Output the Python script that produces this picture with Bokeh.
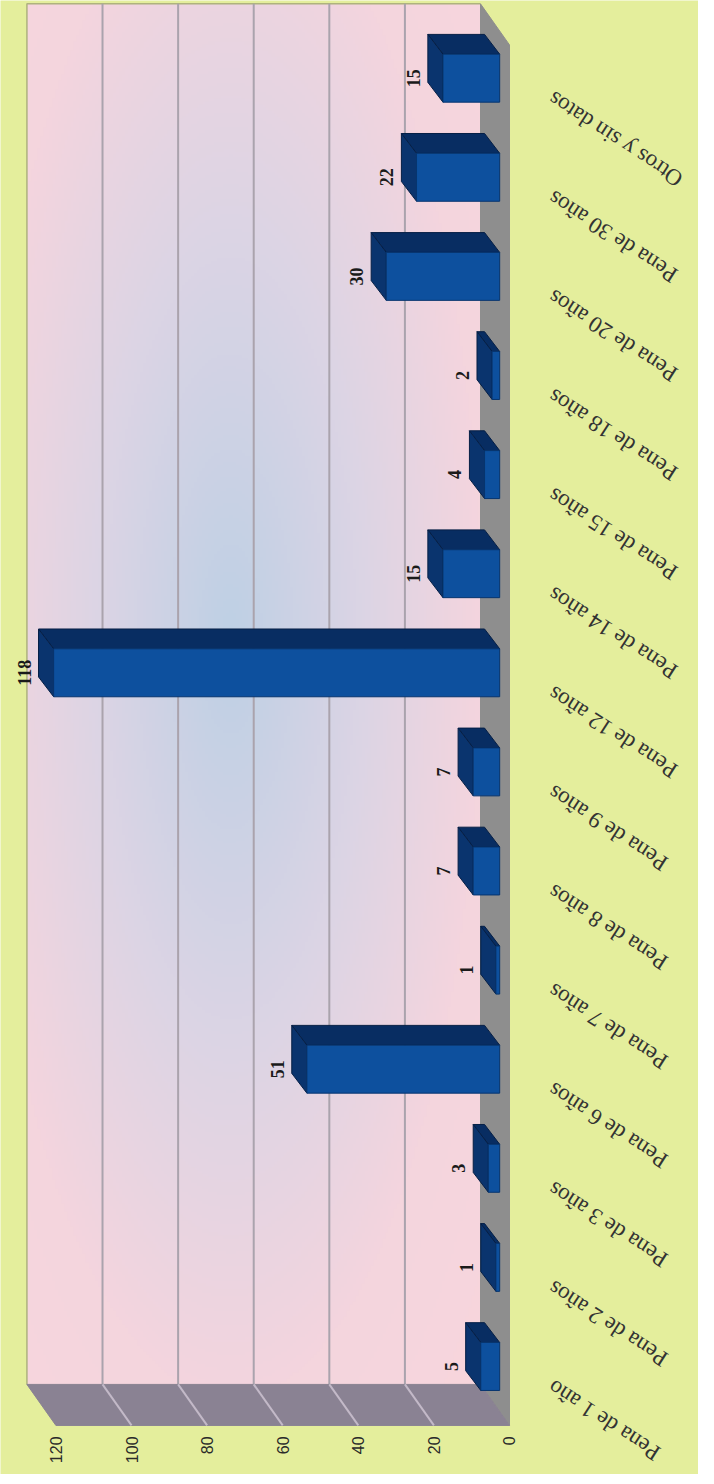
import numpy as np
from bokeh.plotting import figure
from bokeh.models import Range1d, FixedTicker
from bokeh.core.properties import value
from bokeh.embed import file_html
from bokeh.resources import INLINE

# ---------------- data ----------------
categories = ["Pena de 1 año", "Pena de 2 años", "Pena de 3 años", "Pena de 6 años",
              "Pena de 7 años", "Pena de 8 años", "Pena de 9 años", "Pena de 12 años",
              "Pena de 14 años", "Pena de 15 años", "Pena de 18 años", "Pena de 20 años",
              "Pena de 30 años", "Otros y sin datos"]
counts = [5, 1, 3, 51, 1, 7, 7, 118, 15, 4, 2, 30, 22, 15]
value_ticks = [0, 20, 40, 60, 80, 100, 120]

# ---------------- styling / geometry (data units) ----------------
BG = "#e4ee9c"
DX, DY = 7.67, 0.414     # wall depth offset
BX, BY = 4.0, 0.2        # bar depth offset
F = 2.6                  # bar front-face offset from floor front
HW = 0.242               # half bar thickness
Y0, YTOP = -0.595, 13.784
YBOT = -1.090
WTOP = 13.75
VMAX = value_ticks[-1]

p = figure(frame_width=698, frame_height=1474,
           x_range=Range1d(134.66, -50.0), y_range=Range1d(YBOT, YTOP),
           output_backend="svg", toolbar_location=None,
           y_axis_location=None, min_border=0,
           background_fill_color=BG, border_fill_color=BG, outline_line_color=None)
p.grid.visible = False

ax = p.xaxis[0]
ax.fixed_location = Y0
ax.ticker = FixedTicker(ticks=value_ticks)
ax.major_label_orientation = np.pi / 2
ax.axis_line_color = None
ax.major_tick_line_color = None
ax.minor_tick_line_color = None
ax.major_tick_out = 0
ax.major_tick_in = 0
ax.minor_tick_out = 0
ax.major_label_standoff = 11
ax.major_label_text_font = "Liberation Sans"
ax.major_label_text_font_size = "16px"
ax.major_label_text_color = "#2a2a2a"

# ---------------- back wall gradient ----------------
nx, ny = 152, 464
u = (np.arange(nx) + 0.5) / nx
w = 1 - (np.arange(ny) + 0.5) / ny
U, W = np.meshgrid(u, w)
r = np.sqrt(((U - 0.55) / 0.55) ** 2 + ((W - 0.46) / 0.55) ** 2)
stops = [0.0, 0.5, 1.0, 1.6]
Rc = np.interp(r, stops, [190, 218, 244, 250])
Gc = np.interp(r, stops, [208, 212, 213, 214])
Bc = np.interp(r, stops, [228, 229, 222, 220])
img = np.empty((ny, nx), dtype=np.uint32)
view = img.view(dtype=np.uint8).reshape((ny, nx, 4))
view[..., 0] = Rc.astype(np.uint8)
view[..., 1] = Gc.astype(np.uint8)
view[..., 2] = Bc.astype(np.uint8)
view[..., 3] = 255
p.image_rgba(image=[img], x=DX, y=Y0 + DY, dw=VMAX, dh=WTOP - (Y0 + DY))

# wall border (top / left)
p.line(x=[VMAX + DX, VMAX + DX, DX], y=[Y0 + DY, WTOP, WTOP], line_color="#aeb27e", line_width=1.5)

# back-wall gridlines
inner = value_ticks[1:-1]
p.segment(x0=[v + DX for v in inner], y0=[Y0 + DY] * len(inner),
          x1=[v + DX for v in inner], y1=[WTOP] * len(inner),
          line_color="#aaa3ad", line_width=2)

# floor strip (right) and side strip (bottom)
p.patch(x=[DX, DX, 0, 0], y=[WTOP, Y0 + DY, Y0, WTOP - DY], fill_color="#8e8e8e", line_color="#8e8e8e")
p.patch(x=[VMAX + DX, DX, 0, VMAX], y=[Y0 + DY, Y0 + DY, Y0, Y0], fill_color="#8a8293", line_color="#8a8293")
p.segment(x0=[v + DX for v in inner], y0=[Y0 + DY] * len(inner),
          x1=inner, y1=[Y0] * len(inner), line_color="#c3b9c8", line_width=2)

# ---------------- 3D bars ----------------
xs_top, ys_top, xs_side, ys_side = [], [], [], []
for i, c in enumerate(counts):
    L = c + F
    t, b = i + HW, i - HW
    xs_top.append([F, L, L + BX, F + BX]); ys_top.append([t, t, t + BY, t + BY])
    xs_side.append([L, L, L + BX, L + BX]); ys_side.append([b, t, t + BY, b + BY])
p.patches(xs_top, ys_top, fill_color="#082d62", line_color="#061f45", line_width=1)
p.patches(xs_side, ys_side, fill_color="#0a346e", line_color="#061f45", line_width=1)
idx = list(range(len(counts)))
p.quad(left=[c + F for c in counts], right=[F] * len(counts),
       bottom=[i - HW for i in idx], top=[i + HW for i in idx],
       fill_color="#0d509e", line_color="#07356f", line_width=1)

# value labels
p.text(x=[c + F + BX for c in counts], y=idx, text=[str(c) for c in counts],
       angle=np.pi / 2, text_align="center", text_baseline="bottom", x_offset=-8,
       text_font=value("Liberation Serif"), text_font_style="bold",
       text_font_size="18px", text_color="#1a1a1a")

# category labels
p.text(x=[-10.8] * len(categories), y=[i - 0.19 for i in idx], text=categories,
       angle=np.radians(147), text_align="right", text_baseline="middle",
       text_font=value("Liberation Serif"), text_font_size="23px", text_color="#333333")

html = file_html(p, INLINE)
html = html.replace("<body>", '<body style="background-color:%s;">' % BG, 1)
open("out.html", "w").write(html)
